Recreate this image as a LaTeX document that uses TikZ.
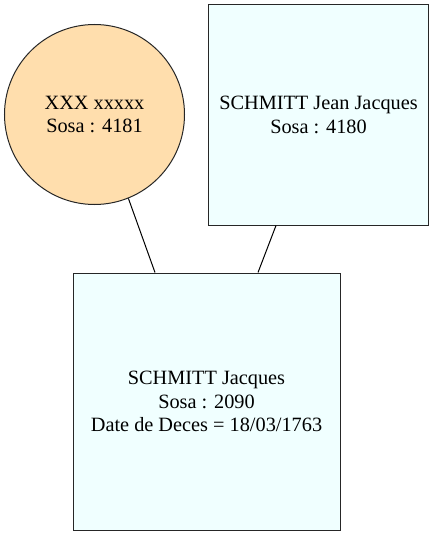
\documentclass[tikz,border=0pt]{standalone}
\usepackage{fontspec}
\setmainfont{Liberation Serif}
\definecolor{femfill}{RGB}{255,222,173}
\definecolor{malefill}{RGB}{240,255,255}
\begin{document}
\begin{tikzpicture}[x=1pt,y=-1pt,
  person/.style={draw=black!85, line width=1pt, align=center, inner sep=0pt,
    font=\fontsize{20.3}{23.5}\selectfont},
  female/.style={person, circle, fill=femfill, minimum size=180pt},
  male/.style={person, rectangle, fill=malefill},
  link/.style={draw=black, line width=1pt}]
\useasboundingbox (0,0) rectangle (434,545);
\node[female] (mother) at (94.5,114.5) {XXX xxxxx\\Sosa : 4181};
\node[male, minimum width=220pt, minimum height=220pt] (father) at (318.5,115) {SCHMITT Jean Jacques\\Sosa : 4180};
\node[male, minimum width=267pt, minimum height=257pt] (child) at (206.5,401.5) {SCHMITT Jacques\\Sosa : 2090\\Date de Deces = 18/03/1763};
\draw[link] (mother.-68) -- (child.north -| 155,0);
\draw[link] (father.south -| 276,0) -- (child.north -| 258,0);
\end{tikzpicture}
\end{document}
